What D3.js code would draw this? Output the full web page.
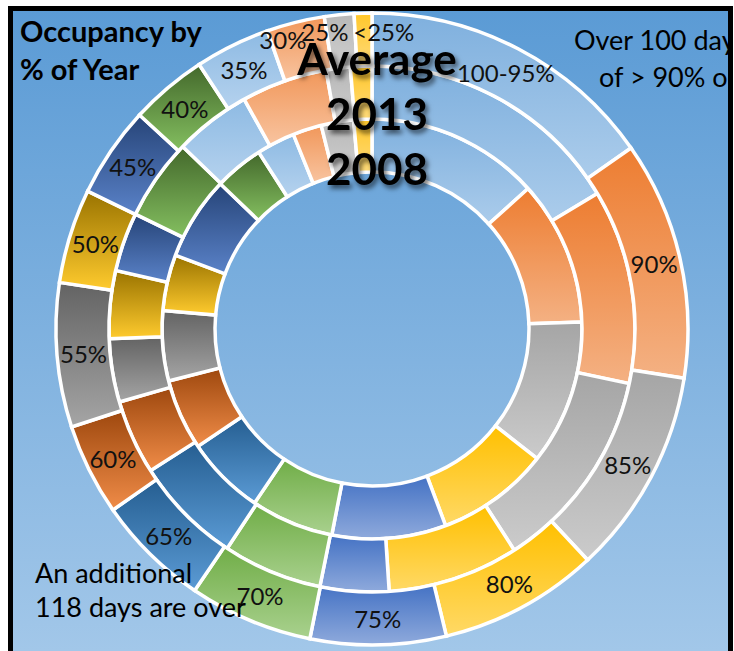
<!DOCTYPE html>
<html><head><meta charset="utf-8">
<script src="https://cdn.jsdelivr.net/npm/d3@7"></script>
<style>body{margin:0;background:#fff}svg{display:block}</style>
</head><body>
<svg id="c" width="734" height="651"></svg>
<script>
// ---------- data (days of the year in each occupancy band) ----------
const categories = ["100-95%","90%","85%","80%","75%","70%","65%","60%","55%","50%","45%","40%","35%","30%","25%","<25%"];
const seriesNames = ["2008","2013","Average"]; // inner -> outer
const days2008    = [48.7, 40.6, 40.6, 31.8, 32.0, 23.3, 22.3, 19.9, 19.7, 15.7, 23.5, 13.8, 10.8, 8.1, 9.1, 5.1];
const days2013    = [59.8, 43.6, 45.9, 29.4, 15.4, 22.3, 24.3, 16.7, 14.2, 15.2, 13.2, 18.3, 17.2, 19.3, 5.4, 4.8];
const daysAverage = [55.8, 44.5, 38.5, 29.8, 25.3, 23.1, 21.2, 17.1, 26.9, 17.6, 17.0, 14.4, 14.0, 10.8, 5.5, 3.3];
const titleLines = ["Occupancy by", "% of Year"];
const centerLines = ["Average", "2013", "2008"];
const noteTopLines = ["Over 100 days", "of > 90% occupancy"];
const noteBottomLines = ["An additional", "118 days are over"];

// ---------- styles ----------
const colorTop    = ["#7FB0DE","#ED7D31","#A5A5A5","#FFC000","#4472C4","#70AD47","#255E91","#9E480E","#636363","#997300","#264478","#43682B","#8DBAE3","#F1975A","#B7B7B7","#FFC72A"];
const colorBottom = ["#ABCCEB","#F4B183","#CBCBCB","#FFD966","#8FAADC","#A9D18E","#5B9BD5","#F08C48","#A5A5A5","#FFCB2E","#5A82C8","#84BF60","#B5D2EE","#F8C4A0","#D0D0D0","#FFDB7A"];
const seriesData = {"2008": days2008, "2013": days2013, "Average": daysAverage};

const svg = d3.select("#c");
const defs = svg.append("defs");

const bg = defs.append("linearGradient").attr("id","bg")
  .attr("gradientUnits","userSpaceOnUse").attr("x1",0).attr("y1",11).attr("x2",0).attr("y2",651);
bg.append("stop").attr("offset",0).attr("stop-color","#5B9BD5");
bg.append("stop").attr("offset",1).attr("stop-color","#A2C7E9");

categories.forEach((c,i)=>{
  const g = defs.append("linearGradient").attr("id","g"+i).attr("x1",0).attr("y1",0).attr("x2",0).attr("y2",1);
  g.append("stop").attr("offset",0).attr("stop-color",colorTop[i]);
  g.append("stop").attr("offset",1).attr("stop-color",colorBottom[i]);
});

const sh = defs.append("filter").attr("id","shadow").attr("x","-20%").attr("y","-20%").attr("width","140%").attr("height","160%");
sh.append("feDropShadow").attr("dx",2.5).attr("dy",3.5).attr("stdDeviation",2.5)
  .attr("flood-color","#000").attr("flood-opacity",0.6);

defs.append("clipPath").attr("id","clip").append("rect")
  .attr("x",13).attr("y",11).attr("width",715).attr("height",660);

// background panel
svg.append("rect").attr("x",10.5).attr("y",8.5).attr("width",720).attr("height",700)
  .attr("fill","url(#bg)");

const root = svg.append("g").attr("clip-path","url(#clip)");

const cx = 372, cy = 329;
const radius = d3.scaleBand().domain(seriesNames).range([157, 316]).paddingInner(0);
const pie = d3.pie().sort(null).value(d=>d).startAngle(0).endAngle(2*Math.PI);

const chart = root.append("g").attr("transform",`translate(${cx},${cy})`);

seriesNames.forEach(s=>{
  const arc = d3.arc().innerRadius(radius(s)).outerRadius(radius(s)+radius.bandwidth());
  chart.append("g").selectAll("path").data(pie(seriesData[s])).join("path")
    .attr("d",arc)
    .attr("fill",(d,i)=>`url(#g${i})`)
    .attr("stroke","#fff").attr("stroke-width",3.5).attr("stroke-linejoin","miter");
});

// labels on the outer ring
const outer = "Average";
const labelArc = d3.arc().innerRadius(radius(outer)).outerRadius(radius(outer)+radius.bandwidth());
const labelNudge = {"30%":[-19,-9], "25%":[-17,-10], "<25%":[20,-8]};
chart.append("g").selectAll("text").data(pie(daysAverage)).join("text")
  .attr("transform",(d,i)=>{
    const [x,y] = labelArc.centroid(d);
    const n = labelNudge[categories[i]] || [0,0];
    return `translate(${x+n[0]},${y+n[1]})`;
  })
  .attr("text-anchor","middle").attr("dominant-baseline","central")
  .attr("font-family","Lato, 'Open Sans', sans-serif").attr("font-size",24)
  .attr("fill","#111")
  .text((d,i)=>categories[i]);

// center series names
root.append("g").selectAll("text").data(centerLines).join("text")
  .attr("x",377).attr("y",(d,i)=>75+i*55)
  .attr("text-anchor","middle")
  .attr("font-family","Lato, sans-serif").attr("font-weight","bold").attr("font-size",44)
  .attr("fill","#000").attr("filter","url(#shadow)")
  .text(d=>d);

// title
root.append("g").selectAll("text").data(titleLines).join("text")
  .attr("x",20).attr("y",(d,i)=>42+i*38)
  .attr("font-family","Lato, sans-serif").attr("font-weight","bold").attr("font-size",29)
  .attr("fill","#000").text(d=>d);

// notes
root.append("g").selectAll("text").data(noteTopLines).join("text")
  .attr("x",(d,i)=>i===0?574:599).attr("y",(d,i)=>50+i*37)
  .attr("font-family","Lato, sans-serif").attr("font-size",27)
  .attr("fill","#000").text(d=>d);
root.append("g").selectAll("text").data(noteBottomLines).join("text")
  .attr("x",35).attr("y",(d,i)=>583+i*34)
  .attr("font-family","Lato, sans-serif").attr("font-size",27)
  .attr("fill","#000").text(d=>d);

// frame border
svg.append("rect").attr("x",10.5).attr("y",8.5).attr("width",720).attr("height",700)
  .attr("fill","none").attr("stroke","#000").attr("stroke-width",5);
</script>
</body></html>
